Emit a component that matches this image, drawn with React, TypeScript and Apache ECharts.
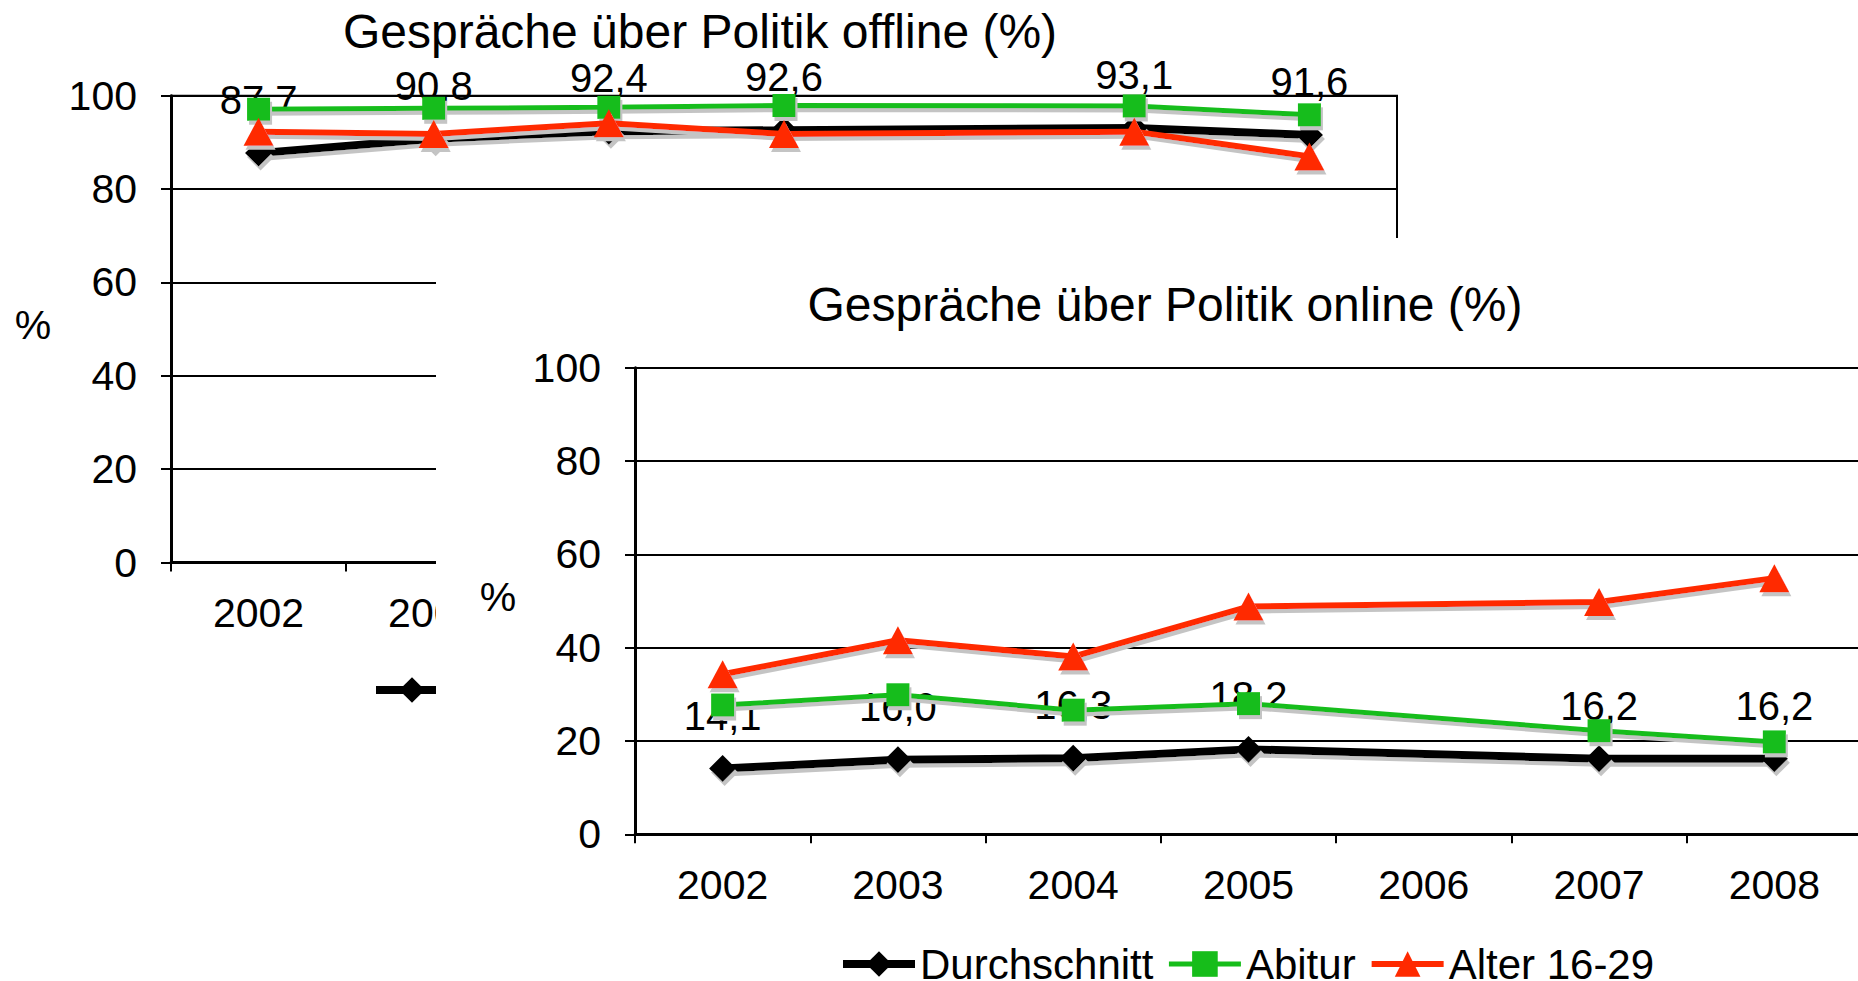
import React, { useEffect, useRef } from 'react';
import * as echarts from 'echarts';

const years = ['2002', '2003', '2004', '2005', '2006', '2007', '2008'];
const seriesNames = ['Durchschnitt', 'Abitur', 'Alter 16-29'];

const offlineDurchschnitt = [87.7, 90.8, 92.4, 92.6, null, 93.1, 91.6];
const offlineAbitur = [97.1, 97.3, 97.5, 97.9, null, 97.8, 95.9];
const offlineAlter = [92.3, 91.8, 94.1, 91.8, null, 92.3, 87.0];

const onlineDurchschnitt = [14.1, 16.0, 16.3, 18.2, null, 16.2, 16.2];
const onlineAbitur = [27.7, 29.9, 26.6, 28.0, null, 22.2, 19.8];
const onlineAlter = [34.3, 41.6, 38.1, 48.8, null, 49.8, 54.9];

const titleOffline = 'Gespräche über Politik offline (%)';
const titleOnline = 'Gespräche über Politik online (%)';
const unitLabel = '%';

const FONT = "'Liberation Sans', Arial, sans-serif";
const BLACK = '#000000';
const GREEN = '#16bd1a';
const RED = '#ff2a00';
const SHADOW = '#c4c4c4';

type Cfg = {
  grid: { left: number; top: number; right: number; bottom: number };
  data: (number | null)[][];
  title: string;
  titlePos: [number, number];
  pctPos: [number, number];
  legendPos: [number, number];
  border: boolean;
};

const styles = [
  { color: BLACK, width: 8, symbol: 'diamond', size: 27 as any },
  { color: GREEN, width: 5, symbol: 'rect', size: 23 as any },
  { color: RED, width: 6, symbol: 'triangle', size: [30, 28] as any },
];

function buildOption(cfg: Cfg) {
  return {
    animation: false,
    backgroundColor: 'transparent',
    textStyle: { fontFamily: FONT, color: BLACK },
    grid: {
      ...cfg.grid,
      show: cfg.border,
      borderColor: BLACK,
      borderWidth: 2,
      backgroundColor: 'transparent',
      containLabel: false,
      outerBoundsMode: 'none',
    },
    legend: {
      data: seriesNames.map((name, i) => ({
        name,
        lineStyle: { width: styles[i].width, color: styles[i].color, shadowColor: 'transparent' },
        itemStyle: { shadowColor: 'transparent' },
      })),
      left: cfg.legendPos[0],
      top: cfg.legendPos[1],
      itemWidth: 72,
      itemHeight: 32,
      itemGap: 13,
      textStyle: { fontSize: 42, lineHeight: 38, color: BLACK, fontFamily: FONT },
    },
    graphic: [
      {
        type: 'text',
        x: cfg.titlePos[0],
        y: cfg.titlePos[1],
        style: {
          text: cfg.title,
          fontSize: 48,
          fontFamily: FONT,
          fill: BLACK,
          textAlign: 'center',
          textVerticalAlign: 'middle',
        },
      },
      {
        type: 'text',
        x: cfg.pctPos[0],
        y: cfg.pctPos[1],
        style: {
          text: unitLabel,
          fontSize: 41,
          fontFamily: FONT,
          fill: BLACK,
          textAlign: 'center',
          textVerticalAlign: 'middle',
        },
      },
    ],
    xAxis: {
      type: 'category',
      data: years,
      boundaryGap: true,
      axisLine: { lineStyle: { color: BLACK, width: 3 } },
      axisTick: { show: true, length: 9, interval: 0, lineStyle: { color: BLACK, width: 2 } },
      axisLabel: { interval: 0, margin: 30, fontSize: 41, color: BLACK, fontFamily: FONT },
      splitLine: { show: false },
    },
    yAxis: {
      type: 'value',
      min: 0,
      max: 100,
      interval: 20,
      axisLine: { show: true, lineStyle: { color: BLACK, width: 3 } },
      axisTick: { show: true, length: 10, lineStyle: { color: BLACK, width: 2 } },
      axisLabel: { margin: 34, fontSize: 41, color: BLACK, fontFamily: FONT },
      splitLine: { show: true, lineStyle: { color: BLACK, width: 2 } },
    },
    series: seriesNames.map((name, i) => ({
      name,
      type: 'line',
      data: cfg.data[i],
      connectNulls: true,
      symbol: styles[i].symbol,
      symbolSize: styles[i].size,
      showAllSymbol: true,
      z: 2 + i,
      lineStyle: {
        color: styles[i].color,
        width: styles[i].width,
        shadowColor: SHADOW,
        shadowOffsetX: 2,
        shadowOffsetY: 4,
        shadowBlur: 0,
      },
      itemStyle: {
        color: styles[i].color,
        borderWidth: 0,
        shadowColor: SHADOW,
        shadowOffsetX: 2,
        shadowOffsetY: 4,
        shadowBlur: 0,
      },
      label:
        i === 0
          ? {
              show: true,
              position: 'inside',
              offset: [0, -53],
              fontSize: 40,
              color: BLACK,
              fontFamily: FONT,
              formatter: (p: any) => (p.value == null ? '' : Number(p.value).toFixed(1).replace('.', ',')),
            }
          : { show: false },
      emphasis: { disabled: true },
    })),
  };
}

export default function App() {
  const backRef = useRef<HTMLDivElement>(null);
  const frontRef = useRef<HTMLDivElement>(null);

  useEffect(() => {
    const back = echarts.init(backRef.current!, null, { renderer: 'svg' });
    back.setOption(
      buildOption({
        grid: { left: 171, top: 95.7, right: 461, bottom: 418.5 },
        data: [offlineDurchschnitt, offlineAbitur, offlineAlter],
        title: titleOffline,
        titlePos: [700, 31],
        pctPos: [33, 325],
        legendPos: [367, 664],
        border: true,
      }) as any
    );
    const front = echarts.init(frontRef.current!, null, { renderer: 'svg' });
    front.setOption(
      buildOption({
        grid: { left: 199, top: 129.7, right: 0, bottom: 146.7 },
        data: [onlineDurchschnitt, onlineAbitur, onlineAlter],
        title: titleOnline,
        titlePos: [729, 66],
        pctPos: [62, 359],
        legendPos: [398, 700],
        border: false,
      }) as any
    );
    return () => {
      back.dispose();
      front.dispose();
    };
  }, []);

  return (
    <div
      style={{
        position: 'absolute',
        left: 0,
        top: 0,
        width: 1858,
        height: 981,
        background: '#ffffff',
        overflow: 'hidden',
      }}
    >
      <div ref={backRef} style={{ position: 'absolute', left: 0, top: 0, width: 1858, height: 981 }} />
      <div
        ref={frontRef}
        style={{ position: 'absolute', left: 436, top: 238, width: 1426, height: 743, background: '#ffffff' }}
      />
    </div>
  );
}
